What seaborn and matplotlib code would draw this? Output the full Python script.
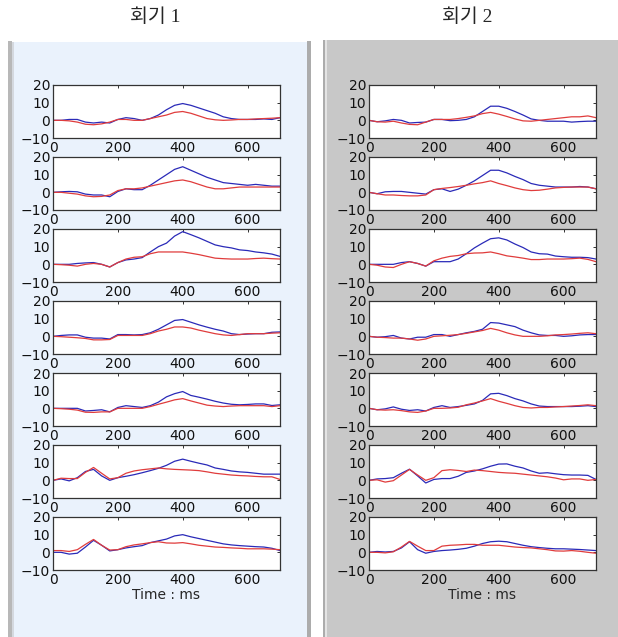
import numpy as np
import pandas as pd
import matplotlib
matplotlib.use("Agg")
import matplotlib.pyplot as plt
import seaborn as sns
from matplotlib.patches import Rectangle

sns.set_style("white")
plt.rcParams['font.family'] = ['DejaVu Sans']

# ==================== DATA ====================
# common time axis (ms), 25 ms steps
time_ms = np.arange(0, 701, 25)

session_titles = ["회기 1", "회기 2"]
x_ticks = [0, 200, 400, 600]
y_ticks = [-10, 0, 10, 20]
x_label = "Time : ms"

# session 1 (left panel), one pair per row: blue, red
s1_blue_1 = [0, 0, 0.5, 0.5, -1, -1.5, -1, -1.5, 0.5, 1.5, 1, 0, 1, 3, 6, 8.5, 9.5, 8.5, 7, 5.5, 4, 2, 1, 0.5, 0.5, 0.5, 0.8, 0.5, 1.5]
s1_red_1 = [0, 0, -0.3, -1, -2.2, -2.5, -2, -1, 0.5, 0.5, 0, 0, 1, 2, 3, 4.5, 5, 4, 2.5, 1, 0.3, 0, 0.2, 0.5, 0.5, 0.8, 1, 1.2, 1.5]
s1_blue_2 = [0, 0.3, 0.5, 0.3, -1, -1.5, -1.5, -2.5, 0.5, 2, 1.5, 1.5, 4, 7, 10, 13, 14.5, 12.5, 10.5, 8.5, 7, 5.5, 5, 4.5, 4, 4.5, 4, 3.5, 3.5]
s1_red_2 = [0, 0, -0.5, -1, -2, -2.5, -2.3, -1.5, 1, 2, 2, 2.5, 3.5, 4.5, 5.5, 6.5, 7, 6, 4.5, 3, 2, 2, 2.5, 3, 3, 3, 3, 3, 3]
s1_blue_3 = [0, 0, 0, 0.5, 0.8, 1, 0, -1.5, 1, 2.5, 3, 3.8, 7, 10, 12, 16, 18.5, 16.8, 15, 13, 11, 10, 9.3, 8.2, 7.8, 7, 6.5, 5.8, 4.5]
s1_red_3 = [0, -0.2, -0.5, -1, 0, 0.5, 0, -1.5, 1, 3, 4, 4.3, 6, 7, 7, 7, 7, 6.3, 5.5, 4.5, 3.5, 3.2, 3, 3, 3, 3.3, 3.5, 3.2, 3]
s1_blue_4 = [0, 0.5, 0.8, 0.8, -0.5, -1, -1, -1.5, 1, 1, 0.8, 1, 2, 4, 6.5, 9, 9.5, 8, 6.5, 5.2, 4, 3, 1.5, 1, 1.3, 1.5, 1.5, 2.3, 2.5]
s1_red_4 = [0, -0.2, -0.5, -0.8, -1.2, -2, -2, -1.8, 0.5, 0.5, 0.5, 0.5, 1.5, 3, 4, 5.3, 5.3, 4.7, 3.5, 2.5, 1.5, 0.8, 0.5, 1, 1.5, 1.5, 1.5, 1.8, 2]
s1_blue_5 = [0, 0, 0, 0, -1.5, -1.2, -0.8, -2, 0.5, 1.5, 1, 0.5, 1.5, 3.5, 6.5, 8.3, 9.5, 7.3, 6.3, 5.2, 4, 3, 2.3, 2, 2.2, 2.5, 2.5, 1.6, 2]
s1_red_5 = [0, -0.2, -0.5, -1, -2.2, -2.3, -2, -2, 0, 0, 0, 0, 1, 2.3, 3.5, 4.8, 5.5, 4.2, 3, 1.8, 1.3, 1, 1.3, 1.5, 1.5, 1.5, 1.5, 1, 1.5]
s1_blue_6 = [0, 0.8, -0.3, 1.5, 5, 6.2, 2.5, 0, 1.5, 2.3, 3.2, 4.3, 5.5, 6.8, 8.5, 10.8, 12, 10.8, 9.7, 8.7, 7, 6.2, 5.3, 4.8, 4.5, 4, 3.5, 3.5, 3.5]
s1_red_6 = [0, 1.2, 1, 1, 4.5, 7.3, 4, 0.8, 1.5, 4, 5.3, 6, 6.5, 7, 6.5, 6.2, 6, 5.8, 5.5, 4.8, 4, 3.5, 3, 2.7, 2.5, 2.2, 2, 2, 0.5]
s1_blue_7 = [0, 0, -1, -0.5, 3, 6.8, 4, 0.8, 1.5, 2.5, 3.2, 3.8, 5.5, 6.5, 7.5, 9.3, 10, 8.8, 7.8, 6.8, 5.8, 4.8, 4.2, 3.8, 3.5, 3.2, 3, 2.3, 1]
s1_red_7 = [1, 1, 0.5, 1.5, 4.5, 7.3, 4, 1.3, 1.5, 3.2, 4.2, 4.8, 5.5, 6, 5.3, 5.2, 5.5, 4.8, 4, 3.5, 3, 2.8, 2.5, 2.3, 2, 2, 2, 1.8, 1.5]

# session 2 (right panel)
s2_blue_1 = [0, -0.8, -0.3, 0.5, 0, -1.5, -1.2, -1, 0.5, 0.5, -0.2, 0, 0.5, 2, 5, 8, 8, 6.8, 5, 3, 0.8, 0, -0.5, -0.5, -0.5, -1, -0.7, -0.5, -0.5]
s2_red_1 = [0, -0.8, -1, -0.5, -1.5, -2.3, -2.5, -1, 0.5, 0.5, 0.5, 1, 1.7, 2.5, 3.8, 4.5, 3.5, 2.2, 0.8, -0.3, -0.5, 0, 0.5, 1, 1.5, 2, 2, 2.5, 1.5]
s2_blue_2 = [0, -0.8, 0.3, 0.5, 0.5, 0, -0.5, -1, 1.5, 2, 0.5, 1.8, 4, 6.5, 9.5, 12.5, 12.5, 11, 9, 7.2, 5, 4, 3.5, 3, 3, 3, 3.3, 3, 2]
s2_red_2 = [0, -0.8, -1.5, -1.5, -1.8, -2, -2, -1.5, 1.5, 2.2, 2.7, 3.3, 4, 4.8, 5.5, 6.5, 5, 3.8, 2.5, 1.5, 1, 1.2, 1.8, 2.5, 2.8, 3, 3, 3, 2]
s2_blue_3 = [0, 0, 0, 0, 1, 1.5, 0.5, -1, 1.5, 1.5, 1.5, 3, 6, 9.3, 12, 14.5, 15, 13.8, 11.5, 9.5, 7, 6, 5.8, 4.7, 4.3, 4, 4, 3.8, 3]
s2_red_3 = [0, -0.5, -1.5, -1.8, 0, 1.5, 0.5, -1, 2, 3.5, 4.5, 5, 6, 6.4, 6.5, 7, 6, 4.8, 4.2, 3.5, 2.7, 2.7, 3, 3, 3, 3.2, 3.5, 2.8, 1.5]
s2_blue_4 = [0, -0.5, -0.2, 0.5, -1, -1.5, -0.5, -0.5, 1, 1, 0, 1, 2, 2.8, 4, 7.8, 7.5, 6.5, 5.5, 3.5, 2, 0.8, 0.5, 0.5, 0, 0.3, 0.8, 1, 1]
s2_red_4 = [0, -0.5, -0.7, -1, -1, -1.5, -2.2, -1.5, 0, 0.3, 0.6, 1, 1.7, 2.5, 3.3, 4.5, 3.5, 2, 0.8, 0, 0, 0, 0.3, 0.8, 1, 1.3, 1.7, 2, 1.5]
s2_blue_5 = [0, -0.8, -0.3, 0.8, -0.5, -1.2, -0.8, -1.5, 0.5, 1.5, 0.5, 1, 1.7, 2.5, 4.5, 8.2, 8.5, 7.2, 5.5, 4.2, 2.5, 1.3, 1, 1, 1, 1, 1.2, 1.5, 1]
s2_red_5 = [0, -0.8, -1, -0.8, -1.3, -2, -2.3, -1.5, 0, 0, 0.2, 0.6, 2, 3, 4.2, 5.5, 4, 2.8, 1.5, 0.5, 0.2, 0.5, 0.5, 0.8, 1, 1.3, 1.6, 2, 1.5]
s2_blue_6 = [0, 0.8, 1, 1.5, 4, 6.3, 2.5, -1.5, 0.5, 1, 1, 2.3, 4.5, 5.3, 6.5, 8, 9.2, 9.3, 8, 7, 5.3, 4, 4.3, 3.7, 3.2, 3, 3, 2.8, 0.5]
s2_red_6 = [0, 0.3, -1, -0.2, 3, 6.2, 3, 0, 1.5, 5.5, 6, 5.6, 5, 5.8, 5.5, 5, 4.5, 4.2, 4, 3.5, 3, 2.5, 2, 1.3, 0.3, 0.8, 0.8, 0, 0.5]
s2_blue_7 = [0, 0.5, 0.2, 0.5, 2.5, 6, 1.5, -0.5, 0.5, 1, 1.3, 1.7, 2.3, 3.5, 5, 6, 6.3, 6, 5, 4, 3.2, 2.7, 2.3, 2, 2, 1.8, 1.6, 1.3, 1]
s2_red_7 = [0, 0, -0.3, 0.3, 3, 6.2, 3.5, 1, 1, 3.5, 4, 4.2, 4.5, 4.5, 4, 4, 4, 3.5, 3, 2.7, 2.5, 2, 1.5, 0.8, 0.7, 1, 0.6, 0, -0.5]

sessions = [
    [(s1_blue_1, s1_red_1), (s1_blue_2, s1_red_2), (s1_blue_3, s1_red_3), (s1_blue_4, s1_red_4),
     (s1_blue_5, s1_red_5), (s1_blue_6, s1_red_6), (s1_blue_7, s1_red_7)],
    [(s2_blue_1, s2_red_1), (s2_blue_2, s2_red_2), (s2_blue_3, s2_red_3), (s2_blue_4, s2_red_4),
     (s2_blue_5, s2_red_5), (s2_blue_6, s2_red_6), (s2_blue_7, s2_red_7)],
]

# ==================== LAYOUT (pixels) ====================
W, H = 618, 637
BLUE = '#2a2ab8'
RED = '#e03c3c'

fig = plt.figure(figsize=(W / 100, H / 100), dpi=100)
fig.patch.set_facecolor('white')

def px_rect(x0, y0, x1, y1, color):
    # pixel box (top-down coords) -> figure patch
    fig.add_artist(Rectangle((x0 / W, 1 - y1 / H), (x1 - x0) / W, (y1 - y0) / H,
                             transform=fig.transFigure, facecolor=color,
                             edgecolor='none', zorder=0))

# panel backgrounds and window borders
px_rect(8, 41, 12, H, '#b8b8b8')
px_rect(12, 42, 307, H, '#eaf2fc')
px_rect(12, 42, 14, H, '#d4d8de')
px_rect(307, 41, 311, H, '#acacac')
px_rect(323, 40, 327, H, '#acacac')
px_rect(325, 40, 327, H, '#e4e4e4')
px_rect(327, 40, W, H, '#c8c8c8')

panel_left = [53, 369]
panel_title_x = [155, 467]
axes_w = 227
axes_h = 53
row_tops = [85, 157, 229, 301, 373, 445, 517]

for p, rows in enumerate(sessions):
    fig.text(panel_title_x[p] / W, 1 - 17 / H, session_titles[p],
             ha='center', va='center', fontsize=14,
             family=['Liberation Serif', 'Noto Sans CJK KR'])
    for r, (blue_vals, red_vals) in enumerate(rows):
        ax = fig.add_axes([panel_left[p] / W, 1 - (row_tops[r] + axes_h) / H,
                           axes_w / W, axes_h / H])
        ax.set_facecolor('white')
        sns.lineplot(x=time_ms, y=blue_vals, color=BLUE, lw=0.9, ax=ax)
        sns.lineplot(x=time_ms, y=red_vals, color=RED, lw=0.9, ax=ax)
        ax.set_xlim(0, 700)
        ax.set_ylim(-10, 20)
        ax.set_xticks(x_ticks)
        ax.set_yticks(y_ticks)
        ax.tick_params(direction='in', length=2.5, width=0.6, labelsize=10,
                       top=True, right=True, pad=2, colors='#111111')
        for s in ax.spines.values():
            s.set_color('#333333')
            s.set_linewidth(0.9)
        ax.set_xlabel('')
        ax.set_ylabel('')
        if r == len(rows) - 1:
            ax.set_xlabel(x_label, fontsize=10, labelpad=1)

fig.savefig('out.png', dpi=100)
